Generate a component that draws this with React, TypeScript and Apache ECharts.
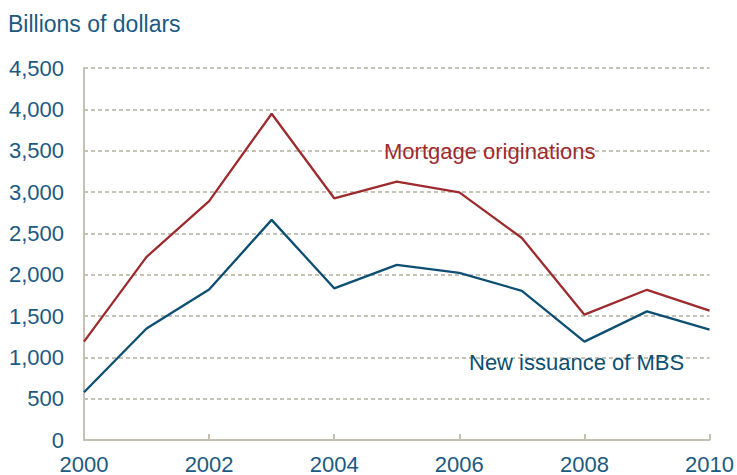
import React, { useEffect, useRef } from "react";
import * as echarts from "echarts";

const years = [2000, 2001, 2002, 2003, 2004, 2005, 2006, 2007, 2008, 2009, 2010];
const mortgageOriginations = [1190, 2215, 2890, 3947, 2924, 3125, 2996, 2443, 1516, 1817, 1564];
const mbsIssuance = [578, 1348, 1820, 2663, 1835, 2118, 2021, 1805, 1190, 1556, 1335];
const yTicks = { min: 0, max: 4500, interval: 500 };
const xTicks = { min: 2000, max: 2010, interval: 2 };

const FONT = "'Liberation Sans', Arial, sans-serif";
const BLUE_TEXT = "#1b5a82";
const RED = "#9d2b2e";
const BLUE = "#0c4f72";
const AXIS = "#c6c2b3";
const GRID = "#b3b09f";

export default function App() {
  const ref = useRef<HTMLDivElement>(null);
  useEffect(() => {
    if (!ref.current) return;
    const chart = echarts.init(ref.current, undefined, { renderer: "svg" });
    chart.setOption({
      animation: false,
      backgroundColor: "#ffffff",
      grid: { left: 84, right: 26, top: 68, bottom: 33, containLabel: false },
      xAxis: {
        type: "value",
        min: xTicks.min,
        max: xTicks.max,
        interval: xTicks.interval,
        axisLine: { show: true, lineStyle: { color: AXIS, width: 2 } },
        axisTick: { show: true, inside: true, length: 6, lineStyle: { color: AXIS, width: 2 } },
        splitLine: { show: false },
        axisLabel: {
          color: BLUE_TEXT,
          fontFamily: FONT,
          fontSize: 22,
          margin: 13,
          formatter: (v: number) => String(v),
        },
      },
      yAxis: {
        type: "value",
        min: yTicks.min,
        max: yTicks.max,
        interval: yTicks.interval,
        axisLine: { show: true, lineStyle: { color: AXIS, width: 2 } },
        axisTick: { show: false },
        splitLine: { show: true, lineStyle: { color: GRID, width: 1.5, type: [4, 3] } },
        axisLabel: {
          color: BLUE_TEXT,
          fontFamily: FONT,
          fontSize: 22,
          margin: 20,
          formatter: (v: number) => v.toLocaleString("en-US"),
        },
      },
      series: [
        {
          name: "Mortgage originations",
          type: "line",
          data: years.map((y, i) => [y, mortgageOriginations[i]]),
          showSymbol: false,
          lineStyle: { color: RED, width: 2.3 },
          itemStyle: { color: RED },
          z: 3,
        },
        {
          name: "New issuance of MBS",
          type: "line",
          data: years.map((y, i) => [y, mbsIssuance[i]]),
          showSymbol: false,
          lineStyle: { color: BLUE, width: 2.3 },
          itemStyle: { color: BLUE },
          z: 3,
        },
      ],
      graphic: [
        {
          type: "text",
          left: 8,
          top: 12,
          style: { text: "Billions of dollars", fill: BLUE_TEXT, font: `23px ${FONT}` },
        },
        {
          type: "text",
          x: 384,
          y: 151,
          z: 10,
          style: {
            text: "Mortgage originations",
            fill: RED,
            font: `22px ${FONT}`,
            textVerticalAlign: "middle",
            verticalAlign: "middle",
          },
        },
        {
          type: "text",
          x: 469,
          y: 362,
          z: 10,
          style: {
            text: "New issuance of MBS",
            fill: BLUE,
            font: `22px ${FONT}`,
            textVerticalAlign: "middle",
            verticalAlign: "middle",
          },
        },
      ],
    });
    return () => chart.dispose();
  }, []);
  return (
    <div
      ref={ref}
      style={{ position: "fixed", left: 0, top: 0, width: 737, height: 475 }}
    />
  );
}
